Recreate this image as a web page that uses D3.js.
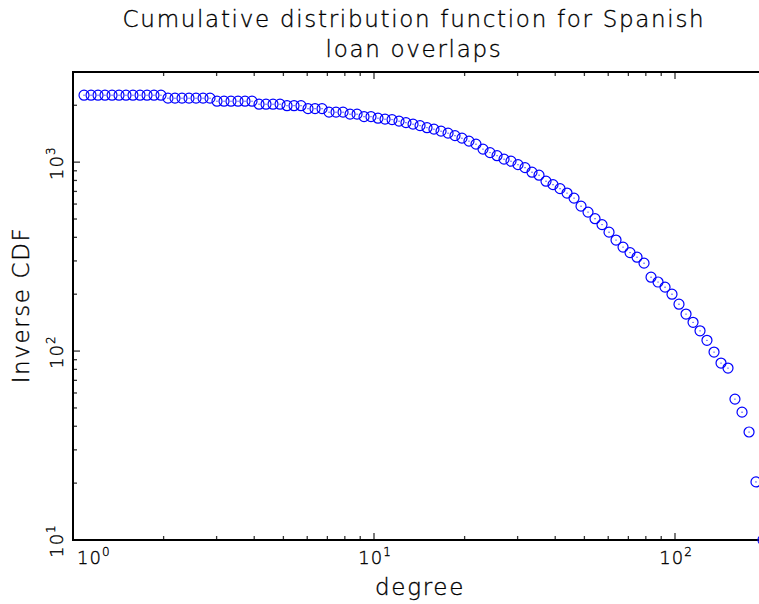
<!DOCTYPE html>
<html>
<head>
<meta charset="utf-8">
<script src="https://cdn.jsdelivr.net/npm/d3@7"></script>
<style>
  html, body { margin: 0; padding: 0; background: #fff; }
  svg text { font-family: "DejaVu Sans", sans-serif; font-weight: 200; fill: #000; stroke: #000; stroke-width: 0.35px; }
</style>
</head>
<body>
<svg id="chart" width="759" height="604"></svg>
<script>
// ---- data ----
const degree = [
  1.088, 1.148, 1.211, 1.277, 1.348, 1.422, 1.500, 1.582, 1.670, 1.762,
  1.858, 1.960, 2.068, 2.182, 2.302, 2.429, 2.563, 2.704, 2.852, 3.009,
  3.175, 3.349, 3.534, 3.728, 3.933, 4.150, 4.378, 4.619, 4.873, 5.141,
  5.424, 5.722, 6.037, 6.369, 6.720, 7.089, 7.479, 7.891, 8.325, 8.783,
  9.266, 9.773, 10.31, 10.88, 11.48, 12.11, 12.77, 13.48, 14.22, 15.00,
  15.82, 16.70, 17.62, 18.58, 19.60, 20.68, 21.82, 23.02, 24.29, 25.63,
  27.04, 28.52, 30.09, 31.75, 33.49, 35.34, 37.28, 39.33, 41.50, 43.78,
  46.19, 48.73, 51.41, 54.24, 57.22, 60.37, 63.69, 67.20, 70.89, 74.79,
  78.91, 83.25, 87.83, 92.66, 97.73, 103.1, 108.8, 114.8, 121.1, 127.7,
  134.8, 142.2, 150.0, 158.2, 167.0, 176.2, 185.8, 196.0
];
const inverseCdf = [
  2262, 2262, 2262, 2262, 2262, 2262, 2262, 2262, 2262, 2262,
  2262, 2262, 2181, 2181, 2181, 2181, 2181, 2181, 2181, 2102,
  2102, 2102, 2102, 2102, 2102, 2027, 2027, 2027, 2027, 1990,
  1990, 1990, 1919, 1919, 1919, 1839, 1839, 1839, 1795, 1795,
  1741, 1741, 1709, 1689, 1679, 1648, 1618, 1589, 1560, 1522,
  1495, 1459, 1424, 1381, 1340, 1292, 1245, 1172, 1123, 1082,
  1037, 1012, 970, 935, 885, 853, 793, 760, 724, 686,
  645, 585, 544, 502, 467, 426, 387, 355, 332, 314,
  292, 246, 232, 218, 200, 177, 157, 142, 128, 114,
  98.8, 86.4, 81.3, 55.7, 47.5, 37.3, 20.3, 10
];
const xMajorTicks = [1, 10, 100];
const xMinorTicks = [2,3,4,5,6,7,8,9,20,30,40,50,60,70,80,90];
const yMajorTicks = [10, 100, 1000];
const yMinorTicks = [20,30,40,50,60,70,80,90,200,300,400,500,600,700,800,900,2000];
const xTickLabels = ["0", "1", "2"];
const yTickLabels = ["1", "2", "3"];
const titleLines = ["Cumulative distribution function for Spanish", "loan overlaps"];
const xTitle = "degree";
const yTitle = "Inverse CDF";

(function () {
  const mLeft = 73, mRight = 760, mTop = 72, mBottom = 540;
  const svg = d3.select("#chart");

  const x = d3.scaleLog().domain([1, 191.6]).range([mLeft, mRight]);
  const y = d3.scaleLog().domain([10, 3000]).range([mBottom, mTop]);

  // ticks
  const tickG = svg.append("g").attr("stroke", "#333").attr("stroke-width", 1.3);
  const majorLen = 7, minorLen = 4;
  xMajorTicks.concat(xMinorTicks).forEach(v => {
    const len = xMajorTicks.includes(v) ? majorLen : minorLen;
    const px = x(v);
    tickG.append("line").attr("x1", px).attr("x2", px).attr("y1", mBottom).attr("y2", mBottom - len);
    tickG.append("line").attr("x1", px).attr("x2", px).attr("y1", mTop).attr("y2", mTop + len);
  });
  yMajorTicks.concat(yMinorTicks).forEach(v => {
    const len = yMajorTicks.includes(v) ? majorLen : minorLen;
    const py = y(v);
    tickG.append("line").attr("x1", mLeft).attr("x2", mLeft + len).attr("y1", py).attr("y2", py);
  });

  // frame (top, left, bottom; right edge lies outside the picture)
  svg.append("path")
    .attr("d", `M${mRight},${mTop}H${mLeft}V${mBottom}H${mRight}`)
    .attr("fill", "none").attr("stroke", "#000").attr("stroke-width", 2);

  // x tick labels
  xMajorTicks.forEach((v, i) => {
    const px = x(v);
    const first = i === 0;
    const t = svg.append("text")
      .attr("x", first ? px + 4 : px + 1)
      .attr("y", 564)
      .attr("text-anchor", first ? "start" : "middle")
      .style("font-size", "18px").style("letter-spacing", "1px");
    t.append("tspan").text("10");
    t.append("tspan").attr("dy", -8).style("font-size", "12px").text(xTickLabels[i]);
  });

  // y tick labels (rotated)
  yMajorTicks.forEach((v, i) => {
    const py = y(v);
    const t = svg.append("text")
      .attr("transform", `translate(63,${py + 1}) rotate(-90)`)
      .attr("text-anchor", "middle")
      .style("font-size", "18px").style("letter-spacing", "1px");
    t.append("tspan").text("10");
    t.append("tspan").attr("dy", -8).style("font-size", "12px").text(yTickLabels[i]);
  });

  // titles
  svg.selectAll("text.title").data(titleLines).enter().append("text")
    .attr("class", "title")
    .attr("x", 414).attr("y", (d, i) => 27 + i * 30)
    .attr("text-anchor", "middle")
    .style("font-size", "23px").style("letter-spacing", "1.7px")
    .text(d => d);

  svg.append("text")
    .attr("x", 420).attr("y", 595)
    .attr("text-anchor", "middle")
    .style("font-size", "23px").style("letter-spacing", "1.7px")
    .text(xTitle);

  svg.append("text")
    .attr("transform", `translate(29,305) rotate(-90)`)
    .attr("text-anchor", "middle")
    .style("font-size", "23px").style("letter-spacing", "1.6px")
    .text(yTitle);

  // points
  const pts = degree.map((d, i) => ({ d, v: inverseCdf[i] }));
  const pg = svg.append("g");
  pg.selectAll("circle.m").data(pts).enter().append("circle")
    .attr("class", "m")
    .attr("cx", p => x(p.d)).attr("cy", p => y(p.v))
    .attr("r", 5)
    .attr("fill", "none").attr("stroke", "#0000ff").attr("stroke-width", 1.2);
  pg.selectAll("circle.c").data(pts).enter().append("circle")
    .attr("class", "c")
    .attr("cx", p => x(p.d)).attr("cy", p => y(p.v))
    .attr("r", 0.6)
    .attr("fill", "#0000ff");
})();
</script>
</body>
</html>
